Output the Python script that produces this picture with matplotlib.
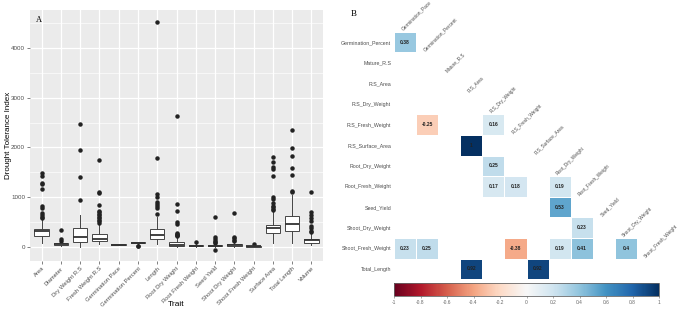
import numpy as np
import matplotlib
matplotlib.use('Agg')
import matplotlib.pyplot as plt
from matplotlib.cm import ScalarMappable
from matplotlib.colors import Normalize

plt.rcParams['font.family'] = ['Liberation Sans', 'DejaVu Sans']

# ---- Panel A: drought tolerance index per trait ----
traits = ['Area', 'Diameter', 'Dry Weight R.S', 'Fresh Weight R.S', 'Germination Pace',
          'Germination Percent', 'Length', 'Root Dry Weight', 'Root Fresh Weight',
          'Seed Yield', 'Shoot Dry Weight', 'Shoot Fresh Weight', 'Surface Area',
          'Total Length', 'Volume']
q1 = [220, 50, 100, 120, 45, 75, 170, 25, 12, 12, 22, 5, 280, 320, 90]
med = [320, 65, 200, 170, 50, 88, 250, 50, 25, 30, 40, 12, 380, 460, 140]
q3 = [370, 80, 380, 260, 55, 95, 360, 100, 40, 50, 60, 20, 450, 620, 170]
whislo = [80, 25, 0, 60, 40, 50, 60, 0, 0, 0, 0, 0, 80, 90, 40]
whishi = [560, 120, 640, 470, 60, 110, 600, 220, 80, 100, 110, 40, 700, 1050, 270]
outliers = [
    [1480, 1420, 1290, 1260, 1170, 830, 790, 690, 640, 610, 580],
    [340, 160, 130],
    [2470, 1950, 1410, 940],
    [1750, 1100, 1090, 840, 730, 700, 670, 640, 610, 580, 550, 520, 490],
    [],
    [30, 20],
    [4510, 1780, 1070, 1000, 900, 860, 820, 780, 660],
    [2640, 870, 720, 500, 460, 290, 270, 250, 240, 230],
    [110],
    [600, 210, 160, 130, 100, 80, -50],
    [680, 210, 180, 150, 120],
    [60],
    [1800, 1700, 1600, 1560, 1420, 1010, 960, 880, 830, 800, 770, 740],
    [2360, 1990, 1820, 1580, 1450, 1130, 1100],
    [1100, 700, 640, 580, 520, 430, 380, 330, 300],
]

# ---- Panel B: correlation matrix (lower triangle, significant cells only) ----
row_names = ['Germination_Percent', 'Mature_R.S', 'R.S_Area', 'R.S_Dry_Weight',
             'R.S_Fresh_Weight', 'R.S_Surface_Area', 'Root_Dry_Weight',
             'Root_Fresh_Weight', 'Seed_Yield', 'Shoot_Dry_Weight',
             'Shoot_Fresh_Weight', 'Total_Length']
col_names = ['Germination_Pace', 'Germination_Percent', 'Mature_R.S', 'R.S_Area',
             'R.S_Dry_Weight', 'R.S_Fresh_Weight', 'R.S_Surface_Area',
             'Root_Dry_Weight', 'Root_Fresh_Weight', 'Seed_Yield',
             'Shoot_Dry_Weight', 'Shoot_Fresh_Weight']
cells = [
    ('Germination_Percent', 'Germination_Pace', 0.38),
    ('R.S_Fresh_Weight', 'Germination_Percent', -0.25),
    ('R.S_Fresh_Weight', 'R.S_Dry_Weight', 0.16),
    ('R.S_Surface_Area', 'R.S_Area', 1.0),
    ('Root_Dry_Weight', 'R.S_Dry_Weight', 0.25),
    ('Root_Fresh_Weight', 'R.S_Dry_Weight', 0.17),
    ('Root_Fresh_Weight', 'R.S_Fresh_Weight', 0.18),
    ('Root_Fresh_Weight', 'Root_Dry_Weight', 0.19),
    ('Seed_Yield', 'Root_Dry_Weight', 0.53),
    ('Shoot_Dry_Weight', 'Root_Fresh_Weight', 0.23),
    ('Shoot_Fresh_Weight', 'Germination_Pace', 0.23),
    ('Shoot_Fresh_Weight', 'Germination_Percent', 0.25),
    ('Shoot_Fresh_Weight', 'R.S_Fresh_Weight', -0.38),
    ('Shoot_Fresh_Weight', 'Root_Dry_Weight', 0.19),
    ('Shoot_Fresh_Weight', 'Root_Fresh_Weight', 0.41),
    ('Shoot_Fresh_Weight', 'Shoot_Dry_Weight', 0.4),
    ('Total_Length', 'R.S_Area', 0.92),
    ('Total_Length', 'R.S_Surface_Area', 0.92),
]
cbar_ticks = [-1, -0.8, -0.6, -0.4, -0.2, 0, 0.2, 0.4, 0.6, 0.8, 1]

W, H = 685, 321
fig = plt.figure(figsize=(W / 100, H / 100), dpi=100)


def px_axes(x0, y0, x1, y1):
    # axes from pixel box (top-left origin)
    return fig.add_axes([x0 / W, 1 - y1 / H, (x1 - x0) / W, (y1 - y0) / H])


# ===== Panel A =====
ax = px_axes(30, 10, 323, 261)
ax.set_facecolor('#EBEBEB')
stats = []
for i in range(len(traits)):
    stats.append(dict(med=med[i], q1=q1[i], q3=q3[i], whislo=whislo[i],
                      whishi=whishi[i], fliers=outliers[i], label=traits[i]))
ax.bxp(stats, positions=range(len(traits)), widths=0.75, patch_artist=True,
       boxprops=dict(facecolor='white', edgecolor='#444444', linewidth=0.7),
       whiskerprops=dict(color='#444444', linewidth=0.7),
       capprops=dict(linewidth=0), medianprops=dict(color='#333333', linewidth=1.3),
       flierprops=dict(marker='o', markersize=2.2, markerfacecolor='#222222',
                       markeredgecolor='#222222'), zorder=3)
ax.set_xlim(-0.6, len(traits) - 0.4)
ax.set_ylim(-280, 4760)
ax.set_yticks([0, 1000, 2000, 3000, 4000])
ax.set_yticks([500, 1500, 2500, 3500, 4500], minor=True)
ax.set_xticks(range(len(traits)))
ax.set_xticklabels(traits, rotation=45, ha='right', rotation_mode='anchor')
ax.grid(True, which='major', color='white', linewidth=0.9, zorder=0)
ax.grid(True, which='minor', axis='y', color='white', linewidth=0.45, zorder=0)
ax.set_axisbelow(True)
for s in ax.spines.values():
    s.set_visible(False)
ax.tick_params(axis='both', which='major', labelsize=4.2, colors='#4D4D4D',
               length=2, width=0.5, pad=1.5)
ax.tick_params(axis='y', which='major', labelsize=4.5)
ax.tick_params(axis='both', which='minor', length=0)
ax.set_xlabel('Trait', fontsize=6)
ax.xaxis.set_label_coords(0.5, -0.175)
ax.xaxis.label.set_va('center')
ax.set_ylabel('Drought Tolerance Index', fontsize=5.8)
ax.yaxis.set_label_coords(-0.075, 0.5)
ax.yaxis.label.set_va('center')
ax.text(0.02, 0.975, 'A', transform=ax.transAxes, ha='left', va='top',
        fontsize=6, family='Liberation Serif')

# ===== Panel B =====
hx = px_axes(394, 31.7, 659, 279.3)
mat = np.full((len(row_names), len(col_names)), np.nan)
for r, c, v in cells:
    mat[row_names.index(r), col_names.index(c)] = v
norm = Normalize(-1, 1)
cmap = plt.get_cmap('RdBu')
hx.pcolormesh(np.arange(len(col_names) + 1) - 0.5, np.arange(len(row_names) + 1) - 0.5,
              np.ma.masked_invalid(mat), cmap=cmap, norm=norm,
              edgecolors='white', linewidth=0.6)
for r, c, v in cells:
    hx.text(col_names.index(c), row_names.index(r), f'{v:g}', ha='center', va='center',
            fontsize=3.6, fontweight='bold', color='#222222')
hx.set_xlim(-0.5, len(col_names) - 0.5)
hx.set_ylim(len(row_names) - 0.5, -0.5)
hx.set_xticks([])
hx.set_yticks(range(len(row_names)))
hx.set_yticklabels(row_names)
hx.tick_params(axis='y', length=0, labelsize=3.8, colors='#4D4D4D', pad=2)
for s in hx.spines.values():
    s.set_visible(False)
for i, name in enumerate(col_names):
    hx.text(i - 0.05, i - 0.5, name, rotation=45, rotation_mode='anchor',
            ha='left', va='bottom', fontsize=3.4, color='#4D4D4D', clip_on=False)

fig.text(354 / W, 1 - 14 / H, 'B', ha='center', va='center', fontsize=6.5,
         family='Liberation Serif')

cx = px_axes(394, 283, 659, 296)
cb = fig.colorbar(ScalarMappable(norm=norm, cmap=cmap), cax=cx,
                  orientation='horizontal', ticks=cbar_ticks)
cb.ax.set_xticklabels([f'{t:g}' for t in cbar_ticks])
cb.ax.tick_params(labelsize=3.5, colors='#666666', length=1.5, width=0.4, pad=1.5)
cb.outline.set_edgecolor('#666666')
cb.outline.set_linewidth(0.6)

fig.savefig('out.png', dpi=100)
